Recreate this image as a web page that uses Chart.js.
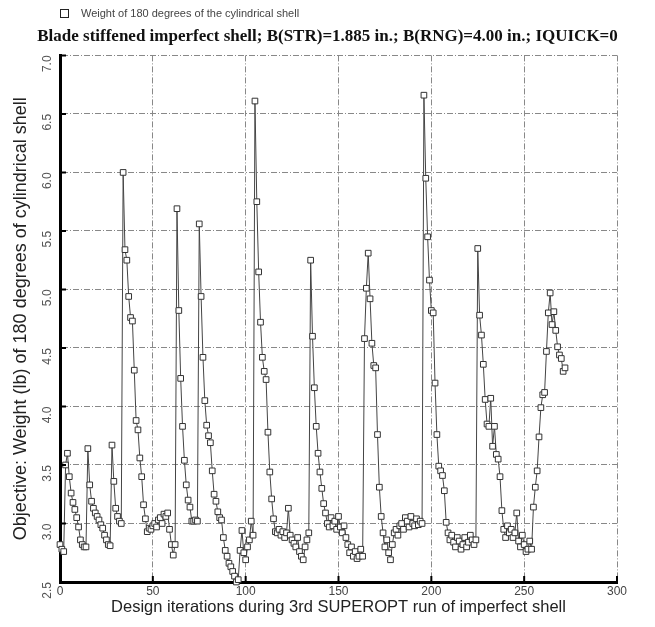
<!DOCTYPE html>
<html>
<head>
<meta charset="utf-8">
<script src="https://cdn.jsdelivr.net/npm/chart.js@4"></script>
<style>
  html, body { margin: 0; padding: 0; background: #fff; }
  #wrap { width: 655px; height: 627px; }
</style>
</head>
<body>
<div id="wrap"><canvas id="chart"></canvas></div>
<script>
/* Weight history over the design iterations */

const iterations = [
    0, 1, 2, 3, 4, 5, 6, 7, 8, 9, 10, 11, 12, 13, 14,
    15, 16, 17, 18, 19, 20, 21, 22, 23, 24, 25, 26, 27,
    28, 29, 30, 31, 32, 33,
    34, 35, 36, 37, 38, 39, 40, 41, 42, 43, 44, 45, 46, 47, 48, 49, 50,
    51, 52, 53, 54, 55, 56, 57, 58, 59, 60, 61, 62,
    63, 64, 65, 66, 67, 68, 69, 70, 71, 72, 73, 74,
    75, 76, 77, 78, 79, 80, 81, 82, 83, 84, 85, 86, 87, 88, 89, 90,
    91, 92, 93, 94, 95, 96, 97, 98, 99, 100, 101, 102, 103, 104,
    105, 106, 107, 108, 109, 110, 111, 112, 113, 114, 115, 116, 117, 118, 119,
    120, 121, 122, 123, 124, 125, 126, 127, 128, 129, 130, 131, 132, 133, 134,
    135, 136, 137, 138, 139, 140, 141, 142, 143, 144, 145, 146, 147, 148, 149,
    150, 151, 152, 153, 154, 155, 156, 157, 158, 159, 160, 161, 162, 163,
    164, 165, 166, 167, 168, 169, 170, 171, 172, 173, 174, 175, 176, 177, 178, 179,
    180, 181, 182, 183, 184, 185, 186, 187, 188, 189, 190, 191, 192, 193, 194, 195,
    196, 197, 198, 199, 200, 201, 202, 203, 204, 205, 206, 207, 208, 209, 210,
    211, 212, 213, 214, 215, 216, 217, 218, 219, 220, 221, 222, 223, 224,
    225, 226, 227, 228, 229, 230, 231, 232, 233, 234, 235, 236, 237, 238, 239,
    240, 241, 242, 243, 244, 245, 246, 247, 248, 249, 250, 251, 252, 253, 254,
    255, 256, 257, 258, 259, 260, 261, 262, 263, 264, 265, 266, 267, 268, 269,
    270, 271, 272
];

const weights = [
    2.82, 2.78, 2.76, 3.50, 3.60, 3.40, 3.26, 3.18, 3.12, 3.05, 2.97, 2.86, 2.82, 2.80, 2.80,
    3.64, 3.33, 3.19, 3.13, 3.09, 3.06, 3.03, 2.99, 2.96, 2.90, 2.86, 2.82, 2.81,
    3.67, 3.36, 3.13, 3.06, 3.02, 3.00,
    6.00, 5.34, 5.25, 4.94, 4.76, 4.73, 4.31, 3.88, 3.80, 3.56, 3.40, 3.16, 3.04, 2.93, 2.96, 2.95, 2.98,
    3.00, 2.97, 3.03, 3.05, 3.00, 3.08, 3.06, 3.09, 2.95, 2.82, 2.73, 2.82,
    5.69, 4.82, 4.24, 3.83, 3.54, 3.33, 3.20, 3.14, 3.02, 3.02, 3.03, 3.02,
    5.56, 4.94, 4.42, 4.05, 3.84, 3.75, 3.69, 3.45, 3.25, 3.19, 3.10, 3.05, 3.03, 2.88, 2.77, 2.72,
    2.66, 2.63, 2.59, 2.55, 2.50, 2.52, 2.77, 2.94, 2.75, 2.69, 2.80, 2.86, 3.02, 2.90,
    6.61, 5.75, 5.15, 4.72, 4.42, 4.30, 4.23, 3.78, 3.44, 3.21, 3.04, 2.93, 2.92, 2.95, 2.90,
    2.93, 2.88, 2.92, 3.13, 2.90, 2.86, 2.83, 2.80, 2.88, 2.76, 2.72, 2.69, 2.80, 2.86, 2.92,
    5.25, 4.60, 4.16, 3.83, 3.60, 3.44, 3.30, 3.17, 3.09, 3.00, 2.97, 3.05, 2.98, 3.02, 2.95,
    3.06, 2.97, 2.92, 2.98, 2.88, 2.82, 2.75, 2.80, 2.72, 2.76, 2.70, 2.72, 2.78, 2.72,
    4.58, 5.01, 5.31, 4.92, 4.54, 4.35, 4.33, 3.76, 3.31, 3.06, 2.92, 2.80, 2.86, 2.75, 2.69, 2.82,
    2.92, 2.95, 2.90, 2.98, 3.00, 2.95, 3.05, 3.02, 2.97, 3.06, 3.00, 2.98, 3.04, 2.99, 3.02, 3.00,
    6.66, 5.95, 5.45, 5.08, 4.82, 4.80, 4.20, 3.76, 3.49, 3.45, 3.41, 3.28, 3.01, 2.92, 2.86,
    2.90, 2.84, 2.80, 2.88, 2.85, 2.78, 2.82, 2.88, 2.80, 2.84, 2.90, 2.86, 2.82, 2.86,
    5.35, 4.78, 4.61, 4.36, 4.06, 3.85, 3.83, 4.07, 3.66, 3.83, 3.59, 3.55, 3.40, 3.11, 2.95,
    2.88, 2.98, 2.92, 2.95, 2.88, 2.92, 3.09, 2.85, 2.80, 2.90, 2.82, 2.76, 2.78, 2.85, 2.78,
    3.14, 3.31, 3.45, 3.74, 3.99, 4.10, 4.12, 4.47, 4.80, 4.97, 4.70, 4.81, 4.65, 4.51, 4.44,
    4.41, 4.30, 4.33
];

const xTicks = [0, 50, 100, 150, 200, 250, 300];
const yTicks = [2.5, 3.0, 3.5, 4.0, 4.5, 5.0, 5.5, 6.0, 6.5, 7.0];

const seriesLabel = "Weight of 180 degrees of the cylindrical shell";
const titleText = "Blade stiffened imperfect shell; B(STR)=1.885 in.; B(RNG)=4.00 in.; IQUICK=0";
const xTitle = "Design iterations during 3rd SUPEROPT run of imperfect shell";
const yTitle = "Objective: Weight (lb) of 180 degrees of cylindrical shell";

const points = iterations.map((it, i) => ({x: it, y: weights[i]}));

/* Small legend in the top left corner, drawn by hand so it can sit where the original had it */
const cornerLegend = {
    id: "cornerLegend",
    afterDraw(chart) {
        const ctx = chart.ctx;
        ctx.save();
        ctx.fillStyle = "#fff";
        ctx.strokeStyle = "#222";
        ctx.lineWidth = 1;
        ctx.fillRect(60.5, 9.5, 8, 8);
        ctx.strokeRect(60.5, 9.5, 8, 8);
        ctx.fillStyle = "#444";
        ctx.font = "11px 'Liberation Sans', Arial, sans-serif";
        ctx.textBaseline = "middle";
        ctx.fillText(seriesLabel, 81, 14);
        ctx.restore();
    }
};

/* Inward tick marks on the left and bottom axes */
const innerTicks = {
    id: "innerTicks",
    afterDatasetsDraw(chart) {
        const ctx = chart.ctx;
        const area = chart.chartArea;
        const xs = chart.scales.x;
        const ys = chart.scales.y;
        ctx.save();
        ctx.strokeStyle = "#000";
        ctx.lineWidth = 2;
        ctx.beginPath();
        yTicks.forEach((v) => {
            const py = ys.getPixelForValue(v);
            ctx.moveTo(area.left, py);
            ctx.lineTo(area.left + 6, py);
        });
        xTicks.forEach((v) => {
            const px = xs.getPixelForValue(v);
            ctx.moveTo(px, area.bottom);
            ctx.lineTo(px, area.bottom - 6);
        });
        ctx.stroke();
        ctx.restore();
    }
};

const sans = "'Liberation Sans', Arial, sans-serif";

new Chart(document.getElementById("chart"), {
    type: "line",
    data: {
        datasets: [{
            label: seriesLabel,
            data: points,
            borderColor: "#444",
            borderWidth: 1,
            pointStyle: "rect",
            pointRadius: 4,
            pointBackgroundColor: "#fff",
            pointBorderColor: "#333",
            pointBorderWidth: 1,
            tension: 0,
            clip: false
        }]
    },
    options: {
        responsive: true,
        maintainAspectRatio: false,
        animation: false,
        layout: {padding: {left: 0, right: 0, top: 0, bottom: 10}},
        plugins: {
            legend: {display: false},
            tooltip: {enabled: false},
            title: {
                display: true,
                text: titleText,
                color: "#111",
                font: {family: "'Liberation Serif', 'Times New Roman', serif", size: 17, weight: "bold"},
                padding: {top: 26, bottom: 9}
            }
        },
        scales: {
            x: {
                type: "linear",
                min: 0,
                max: 300,
                afterBuildTicks: (scale) => { scale.ticks = xTicks.map((v) => ({value: v})); },
                afterFit: (scale) => { scale.height = 35; },
                ticks: {color: "#444", font: {family: sans, size: 12}, padding: 2, maxRotation: 0},
                grid: {color: "#888", lineWidth: 1, drawTicks: false},
                border: {display: true, color: "#000", width: 3, dash: [6, 2, 1, 2]},
                title: {display: true, text: xTitle, color: "#222", font: {family: sans, size: 16.5}, padding: {top: 0, bottom: 0}}
            },
            y: {
                type: "linear",
                min: 2.5,
                max: 7,
                afterBuildTicks: (scale) => { scale.ticks = yTicks.map((v) => ({value: v})); },
                afterFit: (scale) => { scale.width = 60; },
                ticks: {
                    color: "#555",
                    font: {family: sans, size: 12},
                    minRotation: 90,
                    maxRotation: 90,
                    padding: 12,
                    callback: (v) => Number(v).toFixed(1)
                },
                grid: {color: "#888", lineWidth: 1, drawTicks: false},
                border: {display: true, color: "#000", width: 3, dash: [6, 2, 1, 2]},
                title: {display: true, text: yTitle, color: "#222", font: {family: sans, size: 18}, padding: {top: 10, bottom: 0}}
            },
            /* empty right-hand box so the plot ends where the original did and the title stays centred */
            yRight: {
                type: "linear",
                position: "right",
                display: true,
                min: 2.5,
                max: 7,
                afterFit: (scale) => { scale.width = 38; },
                ticks: {display: false},
                grid: {display: false, drawOnChartArea: false},
                border: {display: false}
            }
        }
    },
    plugins: [cornerLegend, innerTicks]
});
</script>
</body>
</html>
